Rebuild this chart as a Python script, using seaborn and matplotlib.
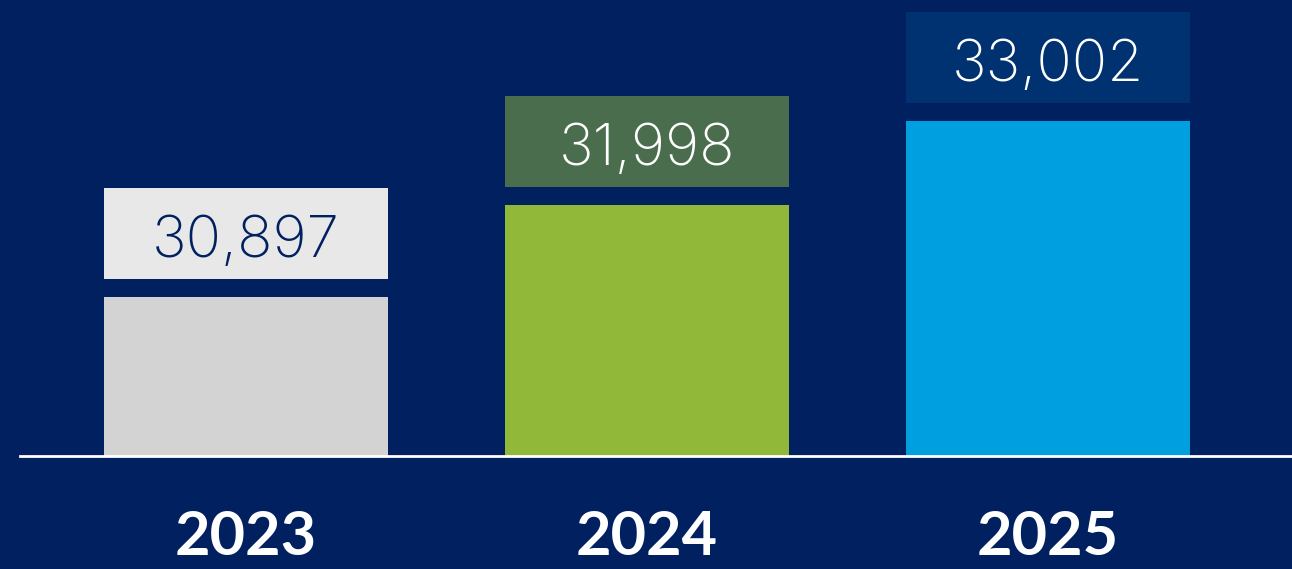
import matplotlib
matplotlib.use("Agg")
import matplotlib.pyplot as plt
import pandas as pd
import seaborn as sns

# data
years = ["2023", "2024", "2025"]
values = [30897, 31998, 33002]
bar_colors = ["#D3D3D3", "#92B83A", "#009FE0"]
box_colors = ["#E8E8E8", "#4A6E4D", "#003170"]
text_colors = ["#002060", "#FFFFFF", "#FFFFFF"]

bg = "#002060"
ymin, ymax = 29000, 34455

sns.set_theme(style="white")
plt.rcParams["font.family"] = ["Lato", "DejaVu Sans"]

df = pd.DataFrame({"year": years, "value": values})

fig = plt.figure(figsize=(12.92, 5.69), dpi=100, facecolor=bg)
ax = fig.add_axes([20 / 1292, 113 / 569, 1272 / 1292, 456 / 569])
ax.set_facecolor(bg)

sns.barplot(data=df, x="year", y="value", hue="year", palette=bar_colors,
            width=0.708, saturation=1, legend=False, linewidth=0, ax=ax)

# pixels -> data units on y
px = (ymax - ymin) / 456
gap, box_h = 18 * px, 91 * px

for i, v in enumerate(values):
    ax.bar(i, box_h, bottom=v + gap, width=0.708, color=box_colors[i],
           linewidth=0, zorder=2)
    ax.text(i, v + gap + 22 * px, f"{v:,}", ha="center", va="baseline",
            fontsize=42, fontweight="light", family=["Inter", "DejaVu Sans"],
            color=text_colors[i], zorder=3)

ax.set_ylim(ymin, ymax)
ax.set_xlim(-0.5636, 2.6085)
ax.set_xlabel("")
ax.set_ylabel("")
ax.set_yticks([])

for s in ["top", "right", "left"]:
    ax.spines[s].set_visible(False)
ax.spines["bottom"].set_color("white")
ax.spines["bottom"].set_linewidth(2)
ax.spines["bottom"].set_zorder(5)

ax.tick_params(axis="x", length=0, pad=71, labelsize=44, labelcolor="white")
for lab in ax.get_xticklabels():
    lab.set_fontweight("bold")
    lab.set_va("baseline")

fig.savefig("out.png", dpi=100, facecolor=bg)
